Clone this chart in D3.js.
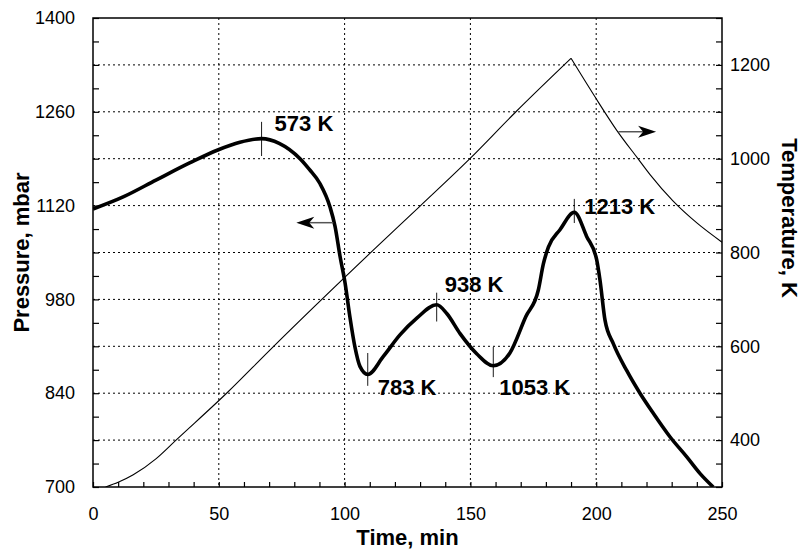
<!DOCTYPE html>
<html>
<head>
<meta charset="utf-8">
<script src="https://cdn.jsdelivr.net/npm/d3@7"></script>
<style>
  body { margin: 0; background: #fff; }
  text { font-family: "Liberation Sans", Arial, Helvetica, sans-serif; }
</style>
</head>
<body>
<div id="container"></div>
<script>
// pressure (thick line), mbar vs time, min
const pTime = [0, 12, 25, 38.6, 49.6, 58.4, 67, 74, 82.3, 86, 90.2, 94.2, 96.2, 98.2, 100.2, 102.1, 104.1, 106.1, 109.2,
  115.4, 122, 128.7, 136.6, 140.6, 145.9, 152.5, 159.1, 165.7, 172, 177, 179, 181, 185.6, 191.3, 196.2, 200.2,
  201.5, 203.5, 206.8, 212.1, 217.4, 222.7, 229.3, 236, 241.3, 246.5];
const pValue = [1115, 1133, 1158, 1184, 1203, 1214.5, 1220, 1213, 1190, 1174, 1153, 1118, 1089, 1044, 1004, 954, 909, 880, 868,
  895, 927, 952, 972, 959, 929, 899, 881, 900, 954, 994, 1033, 1058, 1084, 1110, 1074, 1039,
  1009, 949, 914, 874, 840, 810, 775, 745, 720, 700];

// temperature (thin line), K vs time, min
const tTime = [5, 10, 16, 25, 33, 53.5, 70.3, 111.4, 130, 149.6, 167.7, 190, 199.5, 208.1, 216.6, 221.4, 230.5, 240, 250];
const tValue = [300, 310, 326, 360, 400, 502, 592, 805, 899, 999, 1098, 1214, 1132, 1061, 1000, 966, 910, 863, 822];

// peak markers
const markTime = [67, 109.2, 136.6, 159.1, 191.3];
const markTop = [1245, 900, 990, 909, 1130];
const markBottom = [1194, 851, 947, 864, 1094];
const markLabel = ["573 K", "783 K", "938 K", "1053 K", "1213 K"];

const xTicks = d3.range(0, 251, 10);
const xLabels = [0, 50, 100, 150, 200, 250];
const pTicks = d3.range(700, 1401, 35);
const pLabels = [700, 840, 980, 1120, 1260, 1400];
const tTicks = d3.range(300, 1301, 50);
const tLabels = [400, 600, 800, 1000, 1200];

const w = 803, h = 553;
const padL = 93, padR = 722, padT = 18, padB = 487;

const svg = d3.select("#container").append("svg")
  .attr("width", w).attr("height", h);

const x = d3.scaleLinear().domain([0, 250]).range([padL, padR]);
const yP = d3.scaleLinear().domain([700, 1400]).range([padB, padT]);
const yT = d3.scaleLinear().domain([300, 1300]).range([padB, padT]);

svg.append("clipPath").attr("id", "clip")
  .append("rect").attr("x", padL).attr("y", padT)
  .attr("width", padR - padL).attr("height", padB - padT);

// dotted grid
const grid = svg.append("g").attr("stroke", "#000").attr("stroke-width", 1).attr("stroke-dasharray", "2,3");
grid.selectAll(".h").data(d3.range(770, 1400, 70)).enter().append("line")
  .attr("x1", padL).attr("x2", padR)
  .attr("y1", d => yP(d)).attr("y2", d => yP(d));
grid.selectAll(".v").data([50, 100, 150, 200]).enter().append("line")
  .attr("y1", padT).attr("y2", padB)
  .attr("x1", d => x(d)).attr("x2", d => x(d));

// axes
const fmt = list => d => list.includes(d) ? d : "";
const xAxis = d3.axisBottom(x).tickValues(xTicks).tickSize(-5).tickPadding(20).tickFormat(fmt(xLabels));
const pAxis = d3.axisLeft(yP).tickValues(pTicks).tickSize(-6).tickPadding(18).tickFormat(fmt(pLabels));
const tAxis = d3.axisRight(yT).tickValues(tTicks).tickSize(-6).tickPadding(8).tickFormat(fmt(tLabels));

svg.append("g").attr("transform", "translate(0," + padB + ")").call(xAxis);
svg.append("g").attr("transform", "translate(" + padL + ",0)").call(pAxis);
svg.append("g").attr("transform", "translate(" + padR + ",0)").call(tAxis);
svg.selectAll(".domain").remove();
svg.selectAll(".tick line").attr("stroke", "#000").attr("stroke-width", 1.2);
svg.selectAll(".tick text").attr("font-size", 18).attr("fill", "#000")
  .style("font-family", "'Liberation Sans', Arial, sans-serif");

svg.append("rect").attr("x", padL).attr("y", padT)
  .attr("width", padR - padL).attr("height", padB - padT)
  .attr("fill", "none").attr("stroke", "#000").attr("stroke-width", 1.5);

// curves
const plot = svg.append("g").attr("clip-path", "url(#clip)");
const tLine = d3.line().x(d => x(d[0])).y(d => yT(d[1])).curve(d3.curveMonotoneX);
const pLine = d3.line().x(d => x(d[0])).y(d => yP(d[1])).curve(d3.curveMonotoneX);

// heating and cooling drawn as two pieces so the turn at the top stays sharp
const tData = d3.zip(tTime, tValue);
const peak = d3.maxIndex(tValue);
[tData.slice(0, peak + 1), tData.slice(peak)].forEach(seg => {
  plot.append("path").datum(seg)
    .attr("d", tLine).attr("fill", "none").attr("stroke", "#000").attr("stroke-width", 1.1);
});
plot.append("path").datum(d3.zip(pTime, pValue))
  .attr("d", pLine).attr("fill", "none").attr("stroke", "#000").attr("stroke-width", 3.6)
  .attr("stroke-linejoin", "round");

// peak markers and labels
const labelOffset = [[13, -8], [10, 21], [8, -13], [6, 29], [10, 2]];
markTime.forEach((t, i) => {
  svg.append("line")
    .attr("x1", x(t)).attr("x2", x(t))
    .attr("y1", yP(markTop[i])).attr("y2", yP(markBottom[i]))
    .attr("stroke", "#000").attr("stroke-width", 0.9);
  const py = yP(pValue[pTime.indexOf(t)]);
  svg.append("text")
    .attr("x", x(t) + labelOffset[i][0]).attr("y", py + labelOffset[i][1])
    .attr("font-size", 22).attr("font-weight", "bold").text(markLabel[i]);
});

// arrows
function arrow(x1, x2, y) {
  const dir = Math.sign(x2 - x1);
  svg.append("line").attr("x1", x1).attr("x2", x2 - dir * 10).attr("y1", y).attr("y2", y)
    .attr("stroke", "#555").attr("stroke-width", 1.5);
  svg.append("path")
    .attr("d", `M${x2},${y} L${x2 - dir * 18},${y - 6} L${x2 - dir * 13},${y} L${x2 - dir * 18},${y + 6} Z`)
    .attr("fill", "#000");
}
arrow(x(95.5), x(80.8), yP(1094.5));
arrow(x(208.8), x(223.8), yT(1057.5));

// axis titles
svg.append("text").attr("x", (padL + padR) / 2).attr("y", 545)
  .attr("text-anchor", "middle").attr("font-size", 22).attr("font-weight", "bold").text("Time, min");
svg.append("text").attr("transform", "translate(29," + (padT + padB) / 2 + ") rotate(-90)")
  .attr("text-anchor", "middle").attr("font-size", 22).attr("font-weight", "bold").text("Pressure, mbar");
svg.append("text").attr("transform", "translate(782,218) rotate(90)")
  .attr("text-anchor", "middle").attr("font-size", 22).attr("font-weight", "bold").text("Temperature, K");
</script>
</body>
</html>
